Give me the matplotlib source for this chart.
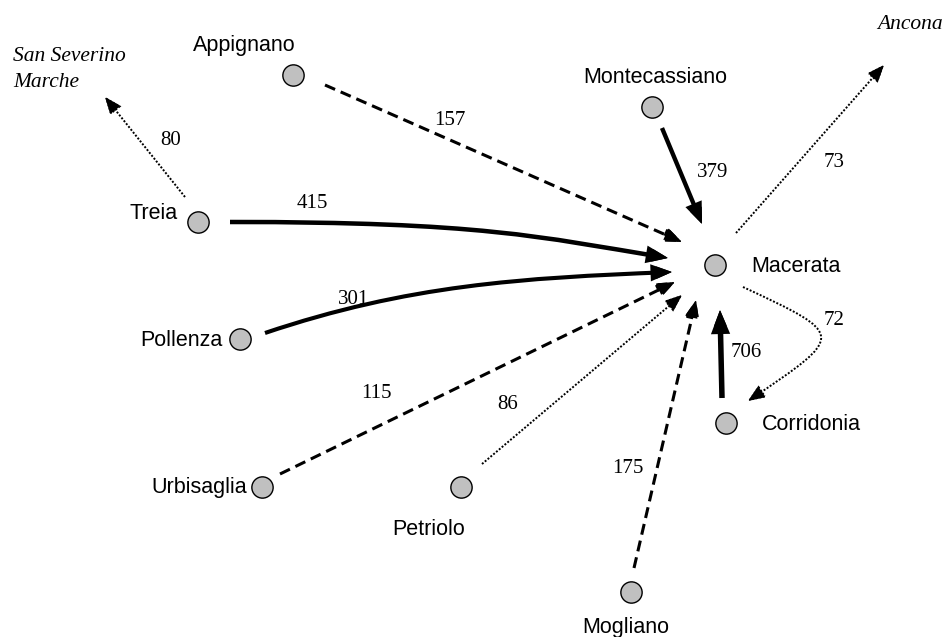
import matplotlib
matplotlib.use('Agg')
import matplotlib.pyplot as plt
import numpy as np
from matplotlib.patches import FancyArrowPatch, ArrowStyle
from matplotlib.path import Path

# comuni (nodi) e flussi
nodi = ['Macerata', 'Appignano', 'Montecassiano', 'Treia', 'Pollenza',
        'Urbisaglia', 'Petriolo', 'Mogliano', 'Corridonia']
esterni = ['San Severino\nMarche', 'Ancona']

flusso_da = ['Treia', 'Appignano', 'Treia', 'Pollenza', 'Montecassiano', 'Macerata',
             'Urbisaglia', 'Petriolo', 'Mogliano', 'Corridonia', 'Macerata']
flusso_a = ['San Severino\nMarche', 'Macerata', 'Macerata', 'Macerata', 'Macerata', 'Ancona',
            'Macerata', 'Macerata', 'Macerata', 'Macerata', 'Corridonia']
flusso_val = [80, 157, 415, 301, 379, 73, 115, 86, 175, 706, 72]

# layout del disegno (pixel)
pos = {
    'Macerata': (715, 265), 'Appignano': (293, 75), 'Montecassiano': (652, 107),
    'Treia': (198, 222), 'Pollenza': (240, 339), 'Urbisaglia': (262, 487),
    'Petriolo': (461, 487), 'Mogliano': (631, 592), 'Corridonia': (726, 423),
    'San Severino\nMarche': (13, 61), 'Ancona': (943, 29),
}
# posizione etichette: (dx, dy, ha)
etich = {
    'Macerata': (36, 7, 'left'), 'Appignano': (-49, -24, 'center'),
    'Montecassiano': (3, -24, 'center'), 'Treia': (-20, -3, 'right'),
    'Pollenza': (-18, 7, 'right'), 'Urbisaglia': (-15, 6, 'right'),
    'Petriolo': (-32, 48, 'center'), 'Mogliano': (-5, 41, 'center'),
    'Corridonia': (36, 7, 'left'),
}

inizio = [(-13, -25), (32, 10), (32, 0), (25, -6), (10, 21), (21, -32),
          (18, -13), (21, -23), (3, -24), (-4, -25), (28, 22)]
fine = [(92, 36), (-33, -23), (-47, -7), (-43, 7), (-13, -41), (-59, 36),
        (-40, 17), (-33, 30), (-19, 35), (5, 45), (22, -22)]
curva = [None, None, ((0.567, 0.047), (0.706, 0.024)), ((0.36, 0.064), (0.636, 0.04)),
         None, None, None, None, None, None, ((0.46, 0.883), (0.46, 0.883))]
pos_num = [(171, 145), (450, 125), (312, 208), (354, 304), (713, 177), (834, 167),
           (376, 398), (508, 409), (628, 473), (746, 357), (834, 325)]


def percorso(p0, p3, c):
    p0 = np.array(p0, float)
    p3 = np.array(p3, float)
    if c is None:
        return Path([p0, p3], [Path.MOVETO, Path.LINETO])
    d = p3 - p0
    L = np.hypot(*d)
    u = d / L
    n = np.array([u[1], -u[0]])
    p1 = p0 + c[0][0] * L * u + c[0][1] * L * n
    p2 = p0 + c[1][0] * L * u + c[1][1] * L * n
    return Path([p0, p1, p2, p3], [Path.MOVETO, Path.CURVE4, Path.CURVE4, Path.CURVE4])


def stile(v):
    if v < 100:
        return (0, (1, 0.9)), 1.4
    if v < 300:
        return (0, (3.6, 2.0)), 2.2
    return 'solid', 2.2 + v * 0.0025


fig = plt.figure(figsize=(9.46, 6.37), dpi=100)
ax = fig.add_axes([0, 0, 1, 1])
ax.set_xlim(0, 946)
ax.set_ylim(637, 0)
ax.axis('off')

testa = ArrowStyle('-|>', head_length=10, head_width=4)
for i in range(len(flusso_val)):
    a = pos[flusso_da[i]]
    b = pos[flusso_a[i]]
    s = (a[0] + inizio[i][0], a[1] + inizio[i][1])
    e = (b[0] + fine[i][0], b[1] + fine[i][1])
    ls, lw = stile(flusso_val[i])
    p = percorso(s, e, curva[i])
    corpo = FancyArrowPatch(path=p, arrowstyle=testa, mutation_scale=1, color='black',
                            linewidth=lw, linestyle=ls, capstyle='butt', joinstyle='miter')
    ax.add_patch(corpo)
    # punta piena
    v = p.vertices
    d = v[-1] - v[-2]
    d = d / np.hypot(*d)
    punta = FancyArrowPatch(path=Path([v[-1] - d * 6, v[-1]]), arrowstyle=testa,
                            mutation_scale=1, color='black', linewidth=1.0)
    ax.add_patch(punta)
    ax.text(pos_num[i][0], pos_num[i][1], str(flusso_val[i]), ha='center', va='baseline',
            family='Liberation Serif', fontsize=15)

nx = [pos[k][0] for k in nodi]
ny = [pos[k][1] for k in nodi]
ax.scatter(nx, ny, s=235, c='#c0c0c0', edgecolors='black', linewidths=1.0, zorder=5)

for k in nodi:
    dx, dy, ha = etich[k]
    ax.text(pos[k][0] + dx, pos[k][1] + dy, k, ha=ha, va='baseline',
            family='Liberation Sans', fontsize=15.5)

x0, y0 = pos['San Severino\nMarche']
for j, riga in enumerate('San Severino\nMarche'.split('\n')):
    ax.text(x0, y0 + 26 * j, riga, ha='left', va='baseline',
            family='Liberation Serif', style='italic', fontsize=15.5)
ax.text(pos['Ancona'][0], pos['Ancona'][1], 'Ancona', ha='right', va='baseline',
        family='Liberation Serif', style='italic', fontsize=15.5)

fig.savefig('out.png', dpi=100)
